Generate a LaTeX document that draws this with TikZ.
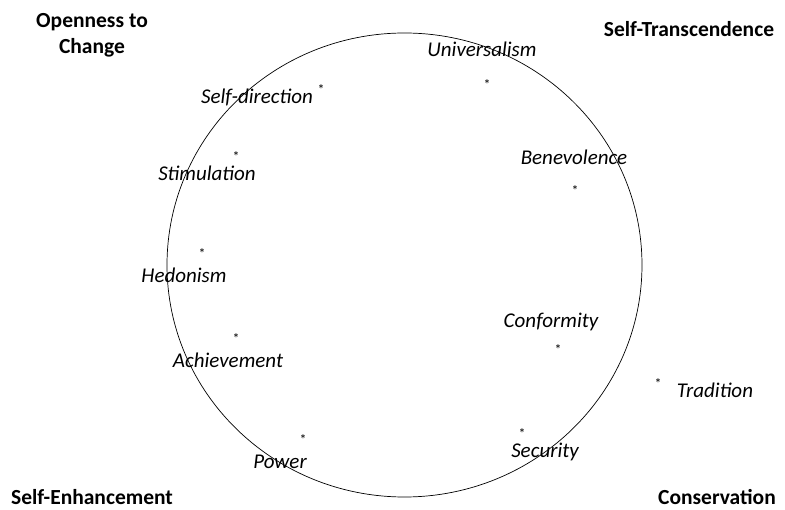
\documentclass[tikz,border=0pt]{standalone}
\usepackage{fontspec}
\setmainfont{Carlito}
\begin{document}
\begin{tikzpicture}[x=1pt,y=-1pt,
  val/.style={inner sep=0pt, font=\fontsize{21}{24}\selectfont\itshape},
  corner/.style={inner sep=0pt, font=\fontsize{21.5}{26}\selectfont\bfseries, align=center},
  star/.style={inner sep=0pt, font=\fontsize{14}{15}\selectfont}]
\useasboundingbox (0,0) rectangle (785,510);
\draw[line width=0.7pt] (404.5,265) ellipse [x radius=237.5, y radius=232];
% corner labels
\node[corner] (open) at (92,35) {Openness to\\Change};
\node[corner] (trans) at (689,29) {Self-Transcendence};
\node[corner] (enh) at (92,497) {Self-Enhancement};
\node[corner] (cons) at (717,497) {Conservation};
% value labels
\node[val] (sd) at (257,97) {Self-direction};
\node[star] (sds) at (321,90) {*};
\node[val] (st) at (207,173) {Stimulation};
\node[star] (sts) at (236,157) {*};
\node[val] (un) at (482,49) {Universalism};
\node[star] (uns) at (487,85) {*};
\node[val] (be) at (574,157) {Benevolence};
\node[star] (bes) at (575,191) {*};
\node[val] (he) at (184,275) {Hedonism};
\node[star] (hes) at (202,254) {*};
\node[val] (ac) at (228,360) {Achievement};
\node[star] (acs) at (236,339) {*};
\node[val] (po) at (280,462) {Power};
\node[star] (pos) at (303,440) {*};
\node[val] (co) at (551,322) {Conformity};
\node[star] (cos) at (558,350) {*};
\node[val] (tr) at (715,390) {Tradition};
\node[star] (trs) at (658,384) {*};
\node[val] (se) at (545,452) {Security};
\node[star] (ses) at (522,434) {*};
\end{tikzpicture}
\end{document}
